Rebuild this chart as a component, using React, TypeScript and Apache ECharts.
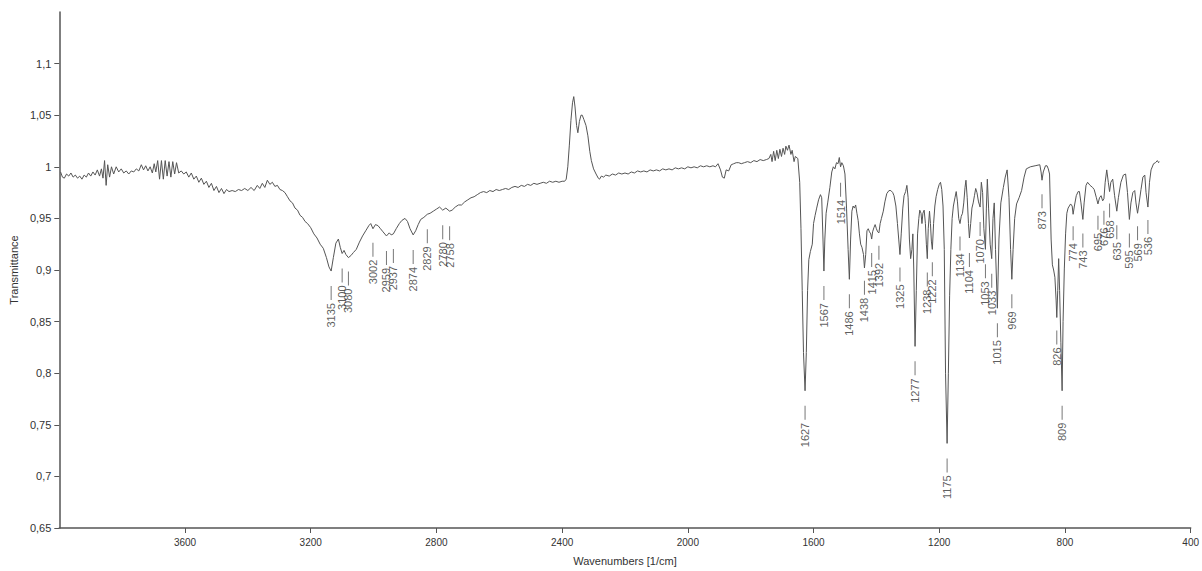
import React, { useEffect, useRef } from "react";
import * as echarts from "echarts";

// Spectrum: [wavenumber (1/cm), transmittance]
const regionHigh: [number, number][] = [
  [3996, 0.995], [3990, 0.990], [3984, 0.989], [3977, 0.993], [3970, 0.991], [3963, 0.994], [3956, 0.990],
  [3949, 0.992], [3942, 0.989], [3935, 0.991], [3928, 0.988], [3921, 0.992], [3914, 0.990], [3907, 0.994],
  [3900, 0.991], [3893, 0.995], [3886, 0.992], [3879, 0.997], [3872, 0.991], [3866, 0.998], [3861, 0.989],
  [3856, 1.006], [3851, 0.982], [3846, 1.002], [3840, 0.990], [3834, 1.000], [3827, 0.993], [3819, 1.000],
  [3811, 0.995], [3803, 0.998], [3795, 0.994], [3787, 0.996], [3779, 0.993], [3771, 0.996], [3763, 0.995],
  [3755, 0.998], [3747, 0.996], [3739, 1.002], [3732, 0.997], [3725, 1.001], [3718, 0.996], [3711, 1.000],
  [3704, 0.994], [3698, 1.003], [3693, 0.995], [3687, 1.006], [3681, 0.988], [3675, 1.006], [3669, 0.988],
  [3663, 1.006], [3657, 0.991], [3651, 1.005], [3645, 0.990], [3639, 1.005], [3633, 0.993], [3627, 1.004],
  [3620, 0.994], [3612, 0.996], [3604, 0.993], [3596, 0.995], [3588, 0.990], [3580, 0.994], [3572, 0.988],
  [3564, 0.991], [3556, 0.985], [3548, 0.989], [3540, 0.983], [3532, 0.986], [3524, 0.980], [3516, 0.984],
  [3508, 0.977], [3500, 0.981], [3492, 0.975], [3484, 0.979], [3476, 0.974], [3468, 0.978], [3460, 0.976],
  [3450, 0.977], [3440, 0.976], [3430, 0.978], [3420, 0.977], [3410, 0.979], [3400, 0.977], [3390, 0.980],
  [3380, 0.977], [3370, 0.982], [3362, 0.979], [3354, 0.984], [3346, 0.980], [3338, 0.987], [3330, 0.983],
  [3322, 0.985], [3314, 0.981], [3306, 0.982], [3298, 0.978], [3290, 0.977], [3282, 0.975], [3274, 0.971],
  [3266, 0.967], [3258, 0.965], [3250, 0.960], [3242, 0.958], [3234, 0.953], [3226, 0.951], [3218, 0.947],
  [3210, 0.945], [3200, 0.941], [3190, 0.935], [3180, 0.931], [3170, 0.925], [3160, 0.921], [3150, 0.912],
  [3142, 0.903], [3135, 0.899], [3128, 0.912], [3120, 0.926], [3112, 0.930], [3106, 0.922], [3100, 0.916],
  [3094, 0.919], [3088, 0.915], [3080, 0.912], [3072, 0.914], [3064, 0.917], [3055, 0.920], [3045, 0.927],
  [3035, 0.933], [3025, 0.938], [3015, 0.943], [3009, 0.945], [3002, 0.940], [2994, 0.944], [2986, 0.943],
  [2978, 0.940], [2970, 0.937], [2959, 0.933], [2950, 0.936], [2944, 0.934], [2937, 0.935], [2928, 0.940],
  [2918, 0.945], [2910, 0.948], [2900, 0.950], [2892, 0.947], [2884, 0.940], [2874, 0.934], [2866, 0.938],
  [2858, 0.944], [2850, 0.949], [2840, 0.951], [2829, 0.954], [2820, 0.955], [2810, 0.957], [2800, 0.959],
  [2790, 0.961], [2780, 0.958], [2770, 0.960], [2758, 0.957], [2750, 0.958], [2740, 0.961], [2730, 0.963],
  [2720, 0.963], [2710, 0.966], [2700, 0.968], [2690, 0.970], [2680, 0.971], [2670, 0.973], [2660, 0.975],
  [2650, 0.976], [2640, 0.975], [2630, 0.977], [2620, 0.976], [2610, 0.978], [2600, 0.977],
];

const regionMid: [number, number][] = [
  [2590, 0.978], [2580, 0.979], [2570, 0.978], [2560, 0.980], [2550, 0.981], [2540, 0.980], [2530, 0.982],
  [2520, 0.981], [2510, 0.983], [2500, 0.982], [2490, 0.984], [2480, 0.983], [2470, 0.984], [2460, 0.985],
  [2450, 0.984], [2440, 0.986], [2430, 0.985], [2420, 0.986], [2410, 0.985], [2400, 0.986], [2392, 0.986],
  [2387, 0.988], [2382, 1.000], [2377, 1.021], [2372, 1.045], [2367, 1.062], [2363, 1.068], [2359, 1.058],
  [2354, 1.040], [2350, 1.033], [2345, 1.044], [2340, 1.050], [2336, 1.050], [2331, 1.046], [2324, 1.040],
  [2318, 1.030], [2312, 1.015], [2307, 1.006], [2300, 0.998], [2292, 0.993], [2285, 0.989], [2281, 0.988],
  [2275, 0.991], [2268, 0.990], [2261, 0.992], [2250, 0.991], [2240, 0.993], [2230, 0.992], [2220, 0.994],
  [2210, 0.993], [2200, 0.994], [2190, 0.993], [2180, 0.995], [2170, 0.994], [2160, 0.996], [2150, 0.995],
  [2140, 0.996], [2130, 0.995], [2120, 0.997], [2110, 0.996], [2100, 0.997], [2090, 0.996], [2080, 0.998],
  [2070, 0.997], [2060, 0.998], [2050, 0.997], [2040, 0.999], [2030, 0.998], [2020, 0.999], [2010, 0.998],
  [2000, 1.000], [1990, 0.999], [1980, 1.000], [1970, 0.999], [1960, 1.001], [1950, 1.000], [1940, 1.001],
  [1930, 1.000], [1920, 1.001], [1912, 1.000], [1904, 1.003], [1896, 0.997], [1890, 0.990], [1884, 0.989],
  [1878, 0.997], [1870, 0.996], [1862, 1.002], [1854, 1.003], [1846, 1.004], [1838, 1.004], [1830, 1.003],
  [1820, 1.004], [1810, 1.005], [1800, 1.004], [1790, 1.006], [1780, 1.005], [1770, 1.007], [1760, 1.006],
  [1750, 1.007], [1742, 1.008], [1736, 1.012], [1732, 1.005], [1727, 1.015], [1722, 1.006], [1717, 1.016],
  [1712, 1.008], [1707, 1.017], [1702, 1.010], [1697, 1.018], [1692, 1.012], [1688, 1.020], [1683, 1.016],
  [1678, 1.021], [1672, 1.012], [1668, 1.016], [1662, 1.005], [1658, 1.010], [1650, 1.008],
];

const regionLow: [number, number][] = [
  [1644, 0.985], [1640, 0.940], [1636, 0.880], [1632, 0.820], [1627, 0.783], [1623, 0.820], [1619, 0.880],
  [1615, 0.910], [1610, 0.918], [1604, 0.925], [1600, 0.945], [1595, 0.953], [1590, 0.960], [1584, 0.968],
  [1578, 0.973], [1574, 0.970], [1570, 0.930], [1567, 0.899], [1564, 0.930], [1560, 0.955], [1555, 0.965],
  [1548, 0.980], [1542, 0.995], [1537, 1.000], [1532, 0.998], [1527, 1.004], [1522, 1.003], [1518, 1.009],
  [1514, 1.000], [1510, 1.004], [1505, 1.001], [1500, 0.993], [1495, 0.960], [1490, 0.920], [1486, 0.891],
  [1482, 0.930], [1478, 0.957], [1474, 0.962], [1470, 0.960], [1466, 0.963], [1462, 0.955], [1458, 0.948],
  [1454, 0.935], [1450, 0.925], [1446, 0.922], [1441, 0.915], [1438, 0.902], [1434, 0.915], [1430, 0.938],
  [1426, 0.940], [1422, 0.937], [1418, 0.935], [1415, 0.930], [1412, 0.937], [1408, 0.941], [1404, 0.944],
  [1400, 0.940], [1396, 0.937], [1392, 0.936], [1388, 0.945], [1384, 0.950], [1378, 0.957], [1373, 0.966],
  [1367, 0.974], [1360, 0.977], [1354, 0.977], [1348, 0.975], [1344, 0.972], [1338, 0.962], [1333, 0.945],
  [1329, 0.930], [1325, 0.915], [1321, 0.935], [1316, 0.960], [1312, 0.972], [1307, 0.976], [1303, 0.982],
  [1299, 0.970], [1295, 0.930], [1291, 0.911], [1287, 0.920], [1284, 0.935], [1281, 0.900], [1277, 0.826],
  [1273, 0.880], [1269, 0.935], [1265, 0.950], [1262, 0.958], [1258, 0.955], [1255, 0.945], [1252, 0.955],
  [1248, 0.958], [1244, 0.945], [1241, 0.925], [1238, 0.911], [1235, 0.940], [1231, 0.957], [1228, 0.945],
  [1225, 0.928], [1222, 0.920], [1218, 0.945], [1214, 0.962], [1210, 0.971], [1205, 0.978], [1200, 0.983],
  [1196, 0.985], [1192, 0.978], [1188, 0.962], [1184, 0.920], [1180, 0.800], [1175, 0.732], [1171, 0.800],
  [1167, 0.875], [1163, 0.920], [1159, 0.950], [1155, 0.962], [1150, 0.970], [1146, 0.976], [1142, 0.966],
  [1138, 0.950], [1134, 0.945], [1130, 0.952], [1126, 0.955], [1122, 0.965], [1118, 0.980], [1115, 0.987],
  [1111, 0.970], [1107, 0.945], [1104, 0.931], [1100, 0.945], [1096, 0.960], [1092, 0.965], [1088, 0.972],
  [1084, 0.979], [1080, 0.975], [1075, 0.966], [1070, 0.961], [1066, 0.985], [1062, 0.975], [1058, 0.940],
  [1053, 0.920], [1050, 0.960], [1047, 0.988], [1043, 0.960], [1038, 0.925], [1033, 0.911], [1029, 0.950],
  [1025, 0.965], [1021, 0.920], [1015, 0.863], [1010, 0.930], [1004, 0.965], [996, 0.980], [990, 0.990],
  [984, 0.997], [978, 0.970], [973, 0.920], [969, 0.891], [965, 0.920], [960, 0.950], [954, 0.964],
  [946, 0.970], [938, 0.977], [930, 0.990], [923, 0.998], [910, 1.000], [895, 1.001], [880, 1.002],
  [876, 0.995], [873, 0.987], [869, 0.995], [862, 1.001], [857, 1.001], [853, 0.998], [849, 0.993],
  [844, 0.930], [840, 0.905], [836, 0.900], [832, 0.893], [828, 0.870], [826, 0.854], [823, 0.880],
  [820, 0.911], [817, 0.880], [813, 0.830], [809, 0.783], [806, 0.850], [802, 0.901], [798, 0.935],
  [794, 0.955], [790, 0.960], [782, 0.964], [777, 0.962], [774, 0.954], [770, 0.962], [764, 0.972],
  [758, 0.976], [754, 0.976], [749, 0.965], [743, 0.949], [739, 0.965], [733, 0.982], [728, 0.985],
  [720, 0.982], [712, 0.980], [707, 0.978], [700, 0.970], [695, 0.964], [690, 0.970], [685, 0.972],
  [680, 0.967], [676, 0.969], [672, 0.985], [667, 0.997], [662, 0.985], [658, 0.976], [654, 0.985],
  [648, 0.988], [642, 0.972], [635, 0.957], [630, 0.970], [622, 0.985], [614, 0.992], [607, 0.993],
  [601, 0.975], [595, 0.949], [590, 0.965], [584, 0.975], [578, 0.977], [574, 0.965], [569, 0.955],
  [564, 0.965], [558, 0.978], [552, 0.990], [546, 0.992], [542, 0.975], [536, 0.961], [531, 0.985],
  [526, 0.997], [518, 1.003], [512, 1.004], [506, 1.006], [502, 1.004], [500, 1.005],
];

// Labelled peaks
const peakWn = [
  3135, 3100, 3080, 3002, 2959, 2937, 2874, 2829, 2780, 2758,
  1627, 1567, 1514, 1486, 1438, 1415, 1392, 1325, 1277, 1238, 1222, 1175, 1134, 1104,
  1070, 1053, 1033, 1015, 969, 873, 826, 809, 774, 743, 695, 676, 658, 635, 595, 569, 536,
];
const peakT = [
  0.899, 0.916, 0.913, 0.941, 0.933, 0.935, 0.934, 0.954, 0.958, 0.957,
  0.783, 0.899, 0.999, 0.891, 0.904, 0.931, 0.938, 0.917, 0.826, 0.912, 0.922, 0.732, 0.947, 0.931,
  0.961, 0.920, 0.911, 0.863, 0.891, 0.988, 0.856, 0.783, 0.957, 0.950, 0.967, 0.972, 0.979, 0.958, 0.950, 0.957, 0.963,
];

const xMin = 400;
const xMax = 4000;
const xStep = 400;
const yMin = 0.65;
const yMax = 1.15;
const yStep = 0.05;

const FONT = "'Liberation Sans', Arial, Helvetica, sans-serif";

export default function App() {
  const ref = useRef<HTMLDivElement>(null);
  useEffect(() => {
    if (!ref.current) return;
    const chart = echarts.init(ref.current, null, { renderer: "svg" });
    const spectrum = [...regionHigh, ...regionMid, ...regionLow];
    chart.setOption({
      animation: false,
      backgroundColor: "#ffffff",
      grid: { left: 53, right: 10, top: 12, bottom: 35, containLabel: false },
      xAxis: {
        type: "value",
        inverse: true,
        min: xMin,
        max: xMax,
        interval: xStep,
        name: "Wavenumbers [1/cm]",
        nameLocation: "middle",
        nameGap: 27,
        nameTextStyle: { color: "#333", fontSize: 11, fontFamily: FONT },
        axisLine: { show: true, lineStyle: { color: "#555", width: 1.5 } },
        axisTick: { show: true, length: 5, lineStyle: { color: "#555", width: 1 } },
        axisLabel: {
          showMaxLabel: false,
          color: "#333",
          fontSize: 10,
          fontFamily: FONT,
          margin: 9,
          formatter: (v: number) => String(Math.round(v)),
        },
        splitLine: { show: false },
      },
      yAxis: {
        type: "value",
        min: yMin,
        max: yMax,
        interval: yStep,
        name: "Transmittance",
        nameLocation: "middle",
        nameGap: 34,
        nameRotate: 90,
        nameTextStyle: { color: "#333", fontSize: 11, fontFamily: FONT },
        axisLine: { show: true, lineStyle: { color: "#555", width: 1.5 } },
        axisTick: { show: true, length: 5, lineStyle: { color: "#555", width: 1 } },
        axisLabel: {
          showMaxLabel: false,
          color: "#333",
          fontSize: 11,
          fontFamily: FONT,
          margin: 8,
          formatter: (v: number) => String(Math.round(v * 100) / 100).replace(".", ","),
        },
        splitLine: { show: false },
      },
      series: [
        {
          type: "line",
          data: spectrum,
          symbol: "none",
          silent: true,
          lineStyle: { color: "#555", width: 1 },
        },
        {
          type: "scatter",
          data: peakWn.map((w, i) => [w, peakT[i]]),
          symbol: "rect",
          symbolSize: [1, 14],
          symbolOffset: [0, 22],
          silent: true,
          itemStyle: { color: "#555" },
          label: {
            show: true,
            position: "bottom",
            distance: 3,
            rotate: 90,
            align: "right",
            verticalAlign: "middle",
            color: "#333",
            fontSize: 11,
            fontFamily: FONT,
            formatter: (p: any) => String(p.value[0]),
          },
          emphasis: { disabled: true },
        },
      ],
    });
    return () => chart.dispose();
  }, []);
  return (
    <div
      ref={ref}
      style={{ position: "fixed", left: 0, top: 0, width: 1202, height: 571, background: "#fff" }}
    />
  );
}
